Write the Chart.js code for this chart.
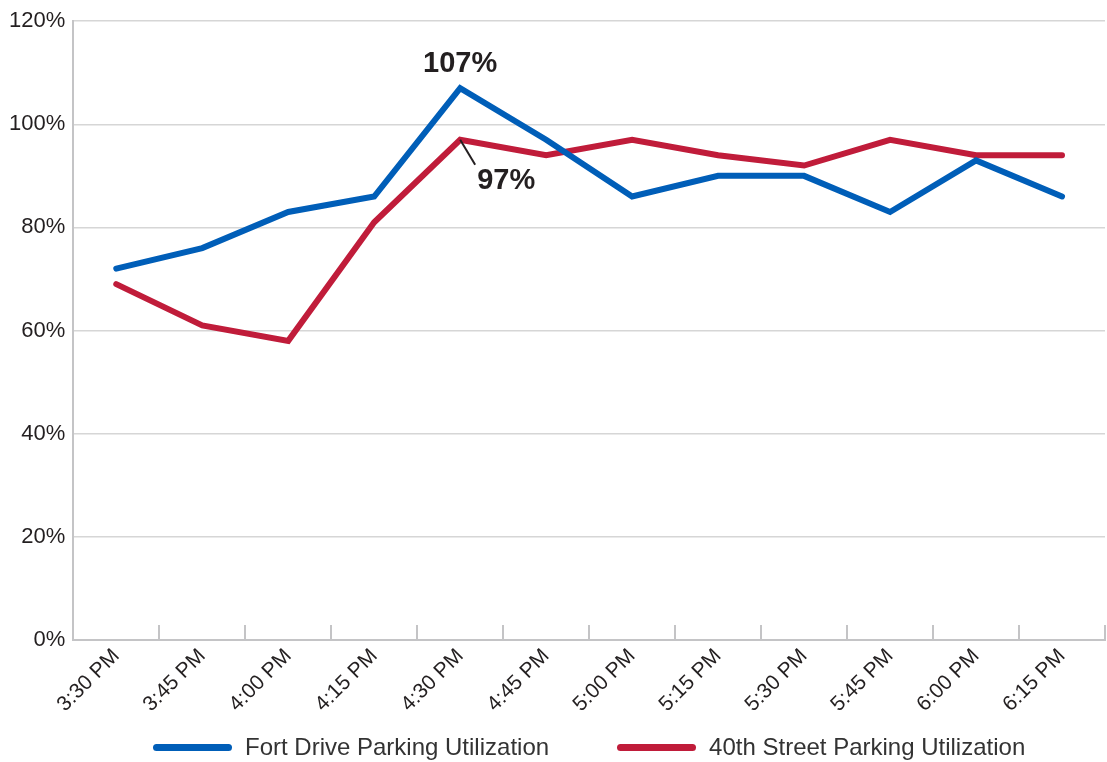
<!DOCTYPE html>
<html>
<head>
<meta charset="utf-8">
<script src="https://cdn.jsdelivr.net/npm/chart.js@4"></script>
<style>
  html, body { margin: 0; padding: 0; background: #fff; }
  #wrap { width: 1107px; height: 762px; position: relative; }
  #legend { position: absolute; top: 733px; height: 28px; display: flex; justify-content: center; align-items: center; gap: 68px;
            font-family: "Liberation Sans", Arial, Helvetica, sans-serif; font-size: 24px; color: #333333; }
  #legend .item { display: flex; align-items: center; white-space: nowrap; }
  #legend .sw { width: 79px; height: 7px; border-radius: 3.5px; margin-right: 13px; }
</style>
</head>
<body>
<div id="wrap"><canvas id="c"></canvas><div id="legend"></div></div>
<script>
const categories = ["3:30 PM","3:45 PM","4:00 PM","4:15 PM","4:30 PM","4:45 PM","5:00 PM","5:15 PM","5:30 PM","5:45 PM","6:00 PM","6:15 PM"];
const fortDrive = [72, 76, 83, 86, 107, 97, 86, 90, 90, 83, 93, 86];
const fortyStreet = [69, 61, 58, 81, 97, 94, 97, 94, 92, 97, 94, 94];
const seriesNames = ["Fort Drive Parking Utilization", "40th Street Parking Utilization"];
const yTicks = [0, 20, 40, 60, 80, 100, 120];

const BLUE = '#005eb8';
const RED = '#c01c3a';
const FONT = '"Liberation Sans", Arial, Helvetica, sans-serif';

const xTickPlugin = {
  id: 'xTickMarks',
  afterDraw(chart) {
    const x = chart.scales.x, ctx = chart.ctx;
    const bottom = chart.chartArea.bottom;
    const n = categories.length;
    const half = (x.getPixelForValue(1) - x.getPixelForValue(0)) / 2;
    ctx.save();
    ctx.strokeStyle = '#c4c4c6';
    ctx.lineWidth = 2;
    for (let i = 1; i <= n; i++) {
      const px = Math.round(x.getPixelForValue(i - 1) + half);
      ctx.beginPath();
      ctx.moveTo(px, bottom);
      ctx.lineTo(px, bottom - 15);
      ctx.stroke();
    }
    ctx.restore();
  }
};

const annotPlugin = {
  id: 'annot',
  afterDatasetsDraw(chart) {
    const ctx = chart.ctx;
    const p0 = chart.getDatasetMeta(0).data[4];
    const p1 = chart.getDatasetMeta(1).data[4];
    ctx.save();
    ctx.fillStyle = '#231f20';
    ctx.font = 'bold 29px ' + FONT;
    ctx.textAlign = 'center';
    ctx.textBaseline = 'middle';
    ctx.fillText(fortDrive[4] + '%', p0.x, p0.y - 24);
    ctx.strokeStyle = '#231f20';
    ctx.lineWidth = 2;
    ctx.beginPath();
    ctx.moveTo(p1.x, p1.y);
    ctx.lineTo(p1.x + 15, p1.y + 25);
    ctx.stroke();
    ctx.textAlign = 'left';
    ctx.fillText(fortyStreet[4] + '%', p1.x + 17, p1.y + 41);
    ctx.restore();
  }
};

const htmlLegendPlugin = {
  id: 'htmlLegend',
  afterUpdate(chart) {
    const el = document.getElementById('legend');
    el.innerHTML = '';
    el.style.left = chart.chartArea.left + 'px';
    el.style.width = (chart.chartArea.right - chart.chartArea.left) + 'px';
    chart.data.datasets.forEach(ds => {
      const item = document.createElement('div');
      item.className = 'item';
      const sw = document.createElement('span');
      sw.className = 'sw';
      sw.style.background = ds.borderColor;
      const tx = document.createElement('span');
      tx.textContent = ds.label;
      item.appendChild(sw);
      item.appendChild(tx);
      el.appendChild(item);
    });
  }
};

new Chart(document.getElementById('c'), {
  type: 'line',
  data: {
    labels: categories,
    datasets: [
      { label: seriesNames[0], data: fortDrive, borderColor: BLUE, backgroundColor: BLUE, borderWidth: 6, pointRadius: 0, tension: 0, borderCapStyle: 'round', borderJoinStyle: 'miter' },
      { label: seriesNames[1], data: fortyStreet, borderColor: RED, backgroundColor: RED, borderWidth: 6, pointRadius: 0, tension: 0, borderCapStyle: 'round', borderJoinStyle: 'miter' }
    ]
  },
  options: {
    responsive: true,
    maintainAspectRatio: false,
    animation: false,
    layout: { padding: { left: 1, right: 2, top: 11, bottom: 41 } },
    plugins: {
      tooltip: { enabled: false },
      legend: { display: false }
    },
    scales: {
      x: {
        offset: true,
        grid: { display: false, drawTicks: false },
        border: { display: true, color: '#c4c4c6', width: 2 },
        ticks: {
          font: { family: FONT, size: 21 },
          color: '#231f20',
          minRotation: 45,
          maxRotation: 45,
          padding: 4
        }
      },
      y: {
        min: 0,
        max: 120,
        afterBuildTicks(axis) { axis.ticks = yTicks.map(v => ({ value: v })); },
        grid: { color: '#d6d6d6', lineWidth: 1.5, drawTicks: false },
        border: { display: true, color: '#c4c4c6', width: 2 },
        ticks: {
          font: { family: FONT, size: 22 },
          color: '#231f20',
          padding: 8,
          callback: v => v + '%'
        }
      }
    }
  },
  plugins: [xTickPlugin, annotPlugin, htmlLegendPlugin]
});
</script>
</body>
</html>
